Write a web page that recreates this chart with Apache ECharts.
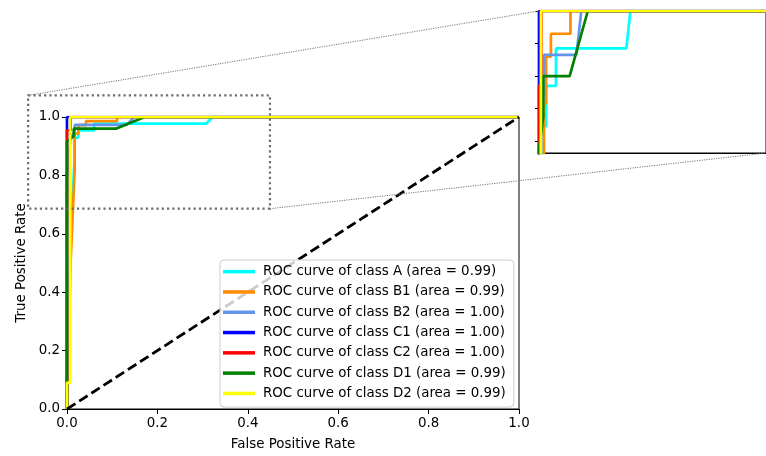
<!DOCTYPE html>
<html>
<head>
<meta charset="utf-8">
<script src="https://cdn.jsdelivr.net/npm/echarts@6/dist/echarts.min.js"></script>
<style>
  html, body { margin: 0; padding: 0; background: #ffffff; }
  #chart { width: 766px; height: 456px; }
</style>
</head>
<body>
<div id="chart"></div>
<script>
// ---- ROC data per class (false positive rate / true positive rate) ----
const classNames = ['A', 'B1', 'B2', 'C1', 'C2', 'D1', 'D2'];
const aucLabels  = ['0.99', '0.99', '1.00', '1.00', '1.00', '0.99', '0.99'];

const fprA  = [0, 0.008, 0.017, 0.017, 0.025, 0.025, 0.060, 0.060, 0.308, 0.322, 1];
const tprA  = [0, 0.600, 0.860, 0.929, 0.929, 0.954, 0.954, 0.977, 0.977, 1.000, 1];

const fprB1 = [0, 0.008, 0.017, 0.017, 0.025, 0.025, 0.042, 0.042, 0.111, 0.111, 1];
const tprB1 = [0, 0.500, 0.820, 0.943, 0.943, 0.972, 0.972, 0.986, 0.986, 1.000, 1];

const fprB2 = [0, 0, 0.008, 0.017, 0.017, 0.132, 0.149, 1];
const tprB2 = [0, 0.800, 0.930, 0.950, 0.973, 0.973, 1.000, 1];

const fprC1 = [0, 0, 1];
const tprC1 = [0, 1, 1];

const fprC2 = [0, 0, 0.008, 0.008, 1];
const tprC2 = [0, 0.954, 0.954, 1.000, 1];

const fprD1 = [0, 0, 0.015, 0.015, 0.108, 0.172, 1];
const tprD1 = [0, 0.915, 0.935, 0.960, 0.960, 1.000, 1];

const fprD2 = [0, 0, 0.007, 0.007, 1];
const tprD2 = [0, 0.090, 0.090, 1.000, 1];

// chance diagonal
const chanceFpr = [0, 1];
const chanceTpr = [0, 1];

// axis ticks
const mainTicks  = [0, 0.2, 0.4, 0.6, 0.8, 1.0];
const insetTicks = [0.92, 0.94, 0.96, 0.98, 1.0];

// zoomed view ranges and the marked region on the main axes (data units)
const insetXRange = [0, 0.8];
const insetYRange = [0.9127, 1.0];
const zoomBoxX = [-0.086, 0.449];
const zoomBoxY = [0.686, 1.074];

// ---- styling ----
const FONT = 'DejaVu Sans';
const FONT_SIZE = 13.4;
const lineColors = ['#00ffff', '#ff8c00', '#6495ed', '#0000ff', '#ff0000', '#008000', '#ffff00'];
const curves = [
  [fprA, tprA], [fprB1, tprB1], [fprB2, tprB2], [fprC1, tprC1],
  [fprC2, tprC2], [fprD1, tprD1], [fprD2, tprD2]
];
const pairs = (xs, ys) => xs.map((x, i) => [x, ys[i]]);
const seriesNames = classNames.map((c, i) => `ROC curve of class ${c} (area = ${aucLabels[i]})`);

const series = [];
curves.forEach((c, i) => {
  series.push({
    type: 'line', name: seriesNames[i], data: pairs(c[0], c[1]),
    xAxisIndex: 0, yAxisIndex: 0, symbol: 'none', clip: true,
    lineStyle: { color: lineColors[i], width: 2.7 },
    itemStyle: { color: lineColors[i] }
  });
});
series.push({
  type: 'line', name: 'chance', data: pairs(chanceFpr, chanceTpr),
  xAxisIndex: 0, yAxisIndex: 0, symbol: 'none', clip: true,
  lineStyle: { color: '#000', width: 2.8, type: [10, 4.5] }
});
curves.forEach((c, i) => {
  series.push({
    type: 'line', name: seriesNames[i], data: pairs(c[0], c[1]),
    xAxisIndex: 1, yAxisIndex: 1, symbol: 'none', clip: true,
    lineStyle: { color: lineColors[i], width: 2.7 },
    itemStyle: { color: lineColors[i] }
  });
});

const tickFmt = v => Number(v).toFixed(1);

const option = {
  animation: false,
  backgroundColor: '#ffffff',
  grid: [
    { left: 67, top: 117, width: 452, height: 296, show: true, borderColor: '#000', borderWidth: 1 },
    { left: 539, top: 11, width: 233, height: 142, show: true, borderColor: '#000', borderWidth: 1 }
  ],
  xAxis: [
    {
      gridIndex: 0, type: 'value', min: 0, max: 1, interval: 0.2,
      name: 'False Positive Rate', nameLocation: 'middle', nameGap: 29,
      nameTextStyle: { fontFamily: FONT, fontSize: FONT_SIZE, color: '#000' },
      axisLine: { show: true, lineStyle: { color: '#000', width: 1 } },
      axisTick: { show: true, length: 5, lineStyle: { color: '#000', width: 1 }, customValues: mainTicks },
      axisLabel: { margin: 8, fontFamily: FONT, fontSize: FONT_SIZE, color: '#000', formatter: tickFmt, customValues: mainTicks },
      splitLine: { show: false }
    },
    {
      gridIndex: 1, type: 'value', min: insetXRange[0], max: insetXRange[1],
      axisLine: { show: true, lineStyle: { color: '#000', width: 1 } },
      axisTick: { show: false }, axisLabel: { show: false }, splitLine: { show: false }
    }
  ],
  yAxis: [
    {
      gridIndex: 0, type: 'value', min: 0, max: 1, interval: 0.2,
      name: 'True Positive Rate', nameLocation: 'middle', nameGap: 38,
      nameTextStyle: { fontFamily: FONT, fontSize: FONT_SIZE, color: '#000' },
      axisLine: { show: true, lineStyle: { color: '#000', width: 1 } },
      axisTick: { show: true, length: 5, lineStyle: { color: '#000', width: 1 }, customValues: mainTicks },
      axisLabel: { margin: 7, fontFamily: FONT, fontSize: FONT_SIZE, color: '#000', formatter: tickFmt, customValues: mainTicks },
      splitLine: { show: false }
    },
    {
      gridIndex: 1, type: 'value', min: insetYRange[0], max: insetYRange[1],
      axisLine: { show: true, lineStyle: { color: '#000', width: 1 } },
      axisTick: { show: true, length: 4, lineStyle: { color: '#000', width: 1 }, customValues: insetTicks },
      axisLabel: { show: false }, splitLine: { show: false }
    }
  ],
  legend: {
    data: seriesNames, orient: 'vertical', left: 220, top: 260,
    icon: 'rect', itemWidth: 32, itemHeight: 3.5, itemGap: 0,
    selectedMode: false,
    backgroundColor: 'rgba(255,255,255,0.8)', borderColor: '#cccccc', borderWidth: 1, borderRadius: 4,
    padding: [1.5, 8, 3.5, 3],
    textStyle: { fontFamily: FONT, fontSize: FONT_SIZE, color: '#000', lineHeight: 20.3, padding: [0, 0, 0, 3] }
  },
  series: series
};

const chart = echarts.init(document.getElementById('chart'), null, { renderer: 'canvas' });
chart.setOption(option);

// marked region on the main axes and its connectors to the zoomed view
const toMain  = p => chart.convertToPixel({ gridIndex: 0 }, p);
const toInset = p => chart.convertToPixel({ gridIndex: 1 }, p);
const boxTL = toMain([zoomBoxX[0], zoomBoxY[1]]);
const boxBR = toMain([zoomBoxX[1], zoomBoxY[0]]);
const insTL = toInset([insetXRange[0], insetYRange[1]]);
const insBR = toInset([insetXRange[1], insetYRange[0]]);

chart.setOption({
  graphic: [
    {
      type: 'rect', z: 100, silent: true,
      shape: { x: boxTL[0], y: boxTL[1], width: boxBR[0] - boxTL[0], height: boxBR[1] - boxTL[1] },
      style: { fill: 'none', stroke: '#6b6b6b', lineWidth: 2.2, lineDash: [2.2, 3.1] }
    },
    {
      type: 'line', z: 100, silent: true,
      shape: { x1: boxTL[0], y1: boxTL[1], x2: insTL[0], y2: insTL[1] },
      style: { stroke: '#777', lineWidth: 1, lineDash: [1.2, 1.2] }
    },
    {
      type: 'line', z: 100, silent: true,
      shape: { x1: boxBR[0], y1: boxBR[1], x2: insBR[0], y2: insBR[1] },
      style: { stroke: '#777', lineWidth: 1, lineDash: [1.2, 1.2] }
    }
  ]
});
</script>
</body>
</html>
